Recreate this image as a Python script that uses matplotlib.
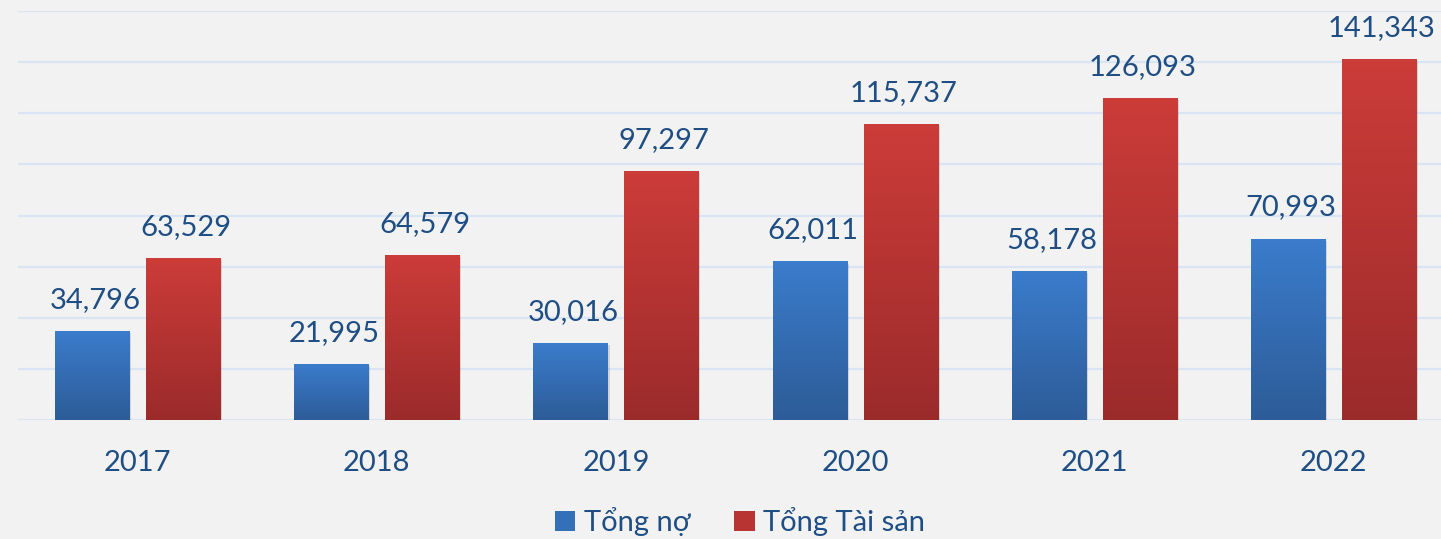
import numpy as np
import matplotlib
matplotlib.use('Agg')
from matplotlib import pyplot as plt
from matplotlib.patches import Rectangle, Patch
from matplotlib.colors import LinearSegmentedColormap

years = ['2017', '2018', '2019', '2020', '2021', '2022']
tong_no = [34796, 21995, 30016, 62011, 58178, 70993]
tong_tai_san = [63529, 64579, 97297, 115737, 126093, 141343]

plt.rcParams['font.family'] = ['Lato', 'DejaVu Sans']
txt_color = '#1f4e85'
bg = '#f2f2f2'
blue_cm = LinearSegmentedColormap.from_list('b', ['#2d5c98', '#3b7ccc'])
red_cm = LinearSegmentedColormap.from_list('r', ['#9b2b2b', '#cc3c39'])

fig = plt.figure(figsize=(14.41, 5.39), dpi=100, facecolor=bg)
ax = fig.add_axes([18 / 1441, 1 - 420 / 539, 1 - 18 / 1441, (420 - 11) / 539])
ax.set_facecolor(bg)

x = np.arange(len(years))
w = 0.31
off = 0.19
grad = np.linspace(0, 1, 256).reshape(-1, 1)


def grad_bars(xs, vals, cmap):
    for xi, v in zip(xs, vals):
        # soft shadow
        ax.add_patch(Rectangle((xi - w / 2 + 0.008, -2000), w, v + 1200,
                               color='#000000', alpha=0.12, lw=0, zorder=2))
        r = Rectangle((xi - w / 2, 0), w, v, facecolor='none', lw=0, zorder=3)
        ax.add_patch(r)
        im = ax.imshow(grad, cmap=cmap, aspect='auto', origin='lower',
                       extent=(xi - w / 2, xi + w / 2, 0, v), zorder=3)
        im.set_clip_path(r)
        ax.annotate(f'{v:,}', (xi, v), xytext=(2, 13), textcoords='offset points',
                    ha='center', va='bottom', fontsize=21, color=txt_color)


grad_bars(x - off, tong_no, blue_cm)
grad_bars(x + off, tong_tai_san, red_cm)

ax.set_xlim(-0.5, (1441 - 18) / 239.2 - 0.5)
ax.set_ylim(0, 160000)
ax.set_yticks(np.arange(0, 160001, 20000))
ax.yaxis.grid(True, color='#d9e4f4', lw=1.6)
ax.set_axisbelow(True)
ax.tick_params(left=False, labelleft=False, bottom=False)
ax.set_xticks(x)
ax.set_xticklabels(years, fontsize=21, color=txt_color)
ax.tick_params(axis='x', pad=18)
for s in ax.spines.values():
    s.set_visible(False)

handles = [Patch(facecolor='#3470b8', label='Tổng nợ'),
           Patch(facecolor='#b83433', label='Tổng Tài sản')]
fig.legend(handles=handles, loc='center', bbox_to_anchor=(740 / 1441, 1 - 522 / 539),
           ncol=2, frameon=False, fontsize=21, labelcolor=txt_color,
           handlelength=0.7, handleheight=0.7, handletextpad=0.3, columnspacing=1.5)

fig.savefig('out.png', dpi=100, facecolor=bg)
